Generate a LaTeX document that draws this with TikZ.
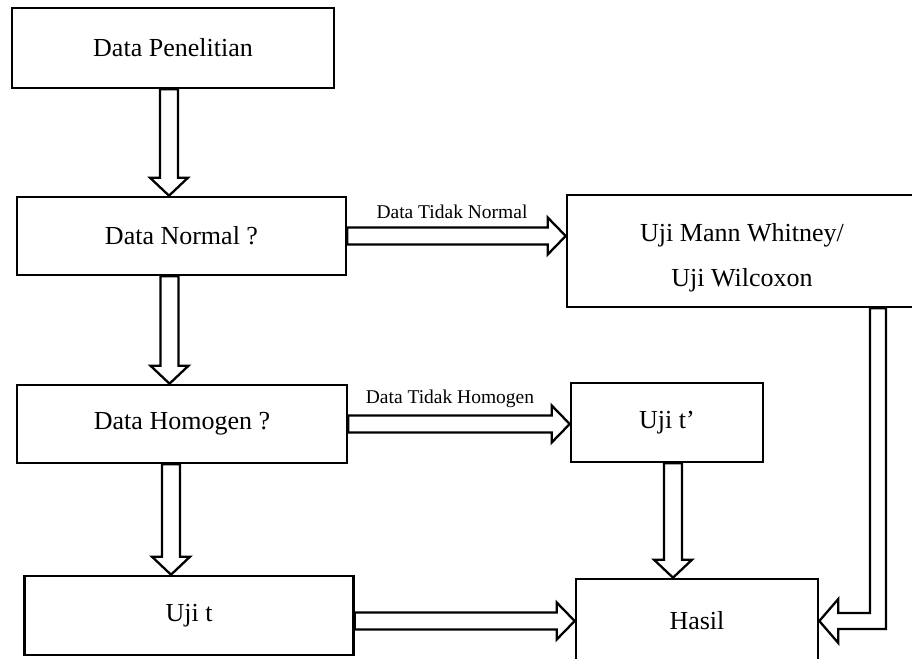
\documentclass[tikz,border=0pt]{standalone}
\usepackage{fontspec}
\setmainfont{Liberation Serif}
\usetikzlibrary{calc}

\tikzset{
  box/.style={draw, rectangle, line width=2.6pt, inner sep=0pt, font=\fontsize{26}{30}\selectfont},
  blockarrow/.style={draw, line width=2.3pt, fill=white, line join=miter},
  lbl/.style={font=\fontsize{19.5}{22}\selectfont}
}

% hollow block arrows, from a start point on one box to a tip on the other
\newcommand{\downblock}[2]{%
  \draw[blockarrow] ([xshift=-9pt]#1) -- ([shift={(-9,-18)}]#2) -- ([shift={(-19,-18)}]#2) -- (#2)
    -- ([shift={(19,-18)}]#2) -- ([shift={(9,-18)}]#2) -- ([xshift=9pt]#1) -- cycle;}
\newcommand{\rightblock}[2]{%
  \draw[blockarrow] ([yshift=8.5pt]#1) -- ([shift={(-18,-8.5)}]#2) -- ([shift={(-18,-18.5)}]#2) -- (#2)
    -- ([shift={(-18,18.5)}]#2) -- ([shift={(-18,8.5)}]#2) -- ([yshift=-8.5pt]#1) -- cycle;}

\begin{document}
\begin{tikzpicture}[x=1pt,y=-1pt]
\useasboundingbox (0,0) rectangle (912,658);

\node[box, minimum width=322pt, minimum height=80pt] (pen) at (173,48) {Data Penelitian};
\node[box, minimum width=329pt, minimum height=78pt] (normal) at (181.5,236) {Data Normal ?};
\node[box, minimum width=330pt, minimum height=78pt] (homogen) at (182,424) {Data Homogen ?};
\node[box, minimum width=329pt, minimum height=79pt] (ujit) at (189,615.5) {Uji t};
\node[box, minimum width=350pt, minimum height=112pt] (mann) at (742,251) {};
\node[align=center, font=\fontsize{26}{30}\selectfont] (manntext) at ([yshift=-7pt]mann.center) {Uji Mann Whitney/\\[15pt]Uji Wilcoxon};
\node[box, minimum width=192pt, minimum height=79pt] (ujitp) at (667,422.5) {Uji t’};
\node[box, minimum width=242pt, minimum height=84pt] (hasil) at (697,621) {Hasil};

% down arrows
\coordinate (a1) at ([xshift=-4pt]pen.south);
\coordinate (a1e) at (a1 |- normal.north);
\downblock{a1}{a1e}
\coordinate (a2) at ([xshift=-12pt]normal.south);
\coordinate (a2e) at (a2 |- homogen.north);
\downblock{a2}{a2e}
\coordinate (a3) at ([xshift=-11pt]homogen.south);
\coordinate (a3e) at (a3 |- ujit.north);
\downblock{a3}{a3e}
\coordinate (a4) at ([xshift=6pt]ujitp.south);
\coordinate (a4e) at (a4 |- hasil.north);
\downblock{a4}{a4e}

% right arrows
\coordinate (b1e) at (mann.west |- normal.east);
\rightblock{normal.east}{b1e}
\coordinate (b2e) at (ujitp.west |- homogen.east);
\rightblock{homogen.east}{b2e}
\coordinate (b3) at (ujit.east |- hasil.west);
\rightblock{b3}{hasil.west}

% mann whitney down and back into hasil
\coordinate (c1) at ([xshift=136pt]mann.south);
\coordinate (c2) at (c1 |- hasil.east);
\draw[blockarrow] ([xshift=-8pt]c1) -- ([shift={(-8,-8)}]c2) -- ([shift={(19,-8)}]hasil.east)
  -- ([shift={(19,-22)}]hasil.east) -- (hasil.east) -- ([shift={(19,22)}]hasil.east)
  -- ([shift={(19,8)}]hasil.east) -- ([shift={(8,8)}]c2) -- ([xshift=8pt]c1) -- cycle;

\node[lbl] (tnormal) at (452,212) {Data Tidak Normal};
\node[lbl] (thomogen) at (450,399) {Data Tidak Homogen};
\end{tikzpicture}
\end{document}
